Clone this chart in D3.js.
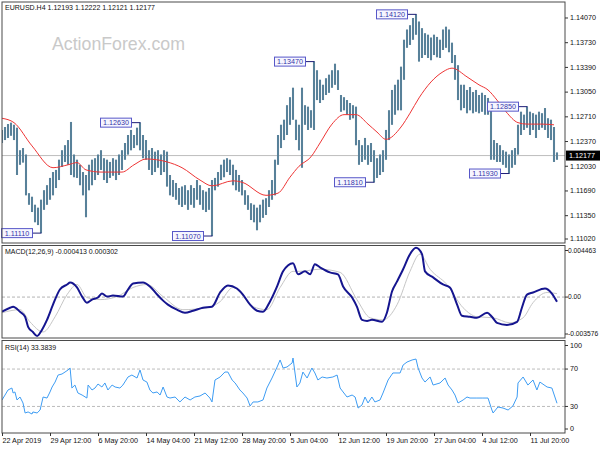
<!DOCTYPE html>
<html><head><meta charset="utf-8">
<script src="https://cdn.jsdelivr.net/npm/d3@7/dist/d3.min.js"></script>
<style>
html,body{margin:0;padding:0;background:#fff}
svg{display:block}
text{font-family:"Liberation Sans",Arial,sans-serif}
</style></head><body>
<svg id="chart" width="600" height="450"></svg>
<script>
// ---------- DATA ----------
const symbolTitle = "EURUSD.H4  1.12193 1.12222 1.12121 1.12177";
const macdTitle = "MACD(12,26,9) -0.000413 0.000302";
const rsiTitle = "RSI(14) 33.3839";
const watermark = "ActionForex.com";
const lastPrice = 1.12177;

const highs = [1.1253,1.1257,1.1261,1.1263,1.1260,1.1256,1.1225,1.1228,1.1219,1.1166,
1.1161,1.1150,1.1146,1.1157,1.1170,1.1177,1.1187,1.1195,1.1198,1.1212,
1.1225,1.1232,1.1239,1.1264,1.1219,1.1212,1.1205,1.1195,1.1191,1.1205,
1.1212,1.1214,1.1219,1.1225,1.1214,1.1212,1.1209,1.1214,1.1212,1.1219,
1.1225,1.1235,1.1246,1.1253,1.1246,1.1256,1.1263,1.1246,1.1239,1.1225,
1.1228,1.1223,1.1225,1.1219,1.1225,1.1223,1.1191,1.1184,1.1180,1.1173,
1.1175,1.1177,1.1170,1.1177,1.1173,1.1184,1.1177,1.1170,1.1168,1.1173,
1.1184,1.1187,1.1195,1.1205,1.1212,1.1214,1.1212,1.1205,1.1198,1.1191,
1.1184,1.1170,1.1163,1.1152,1.1150,1.1146,1.1150,1.1157,1.1159,1.1170,
1.1184,1.1212,1.1246,1.1260,1.1267,1.1287,1.1298,1.1311,1.1267,1.1260,
1.1311,1.1287,1.1285,1.1280,1.1347,1.1335,1.1322,1.1315,1.1324,1.1329,
1.1335,1.1344,1.1335,1.1301,1.1298,1.1294,1.1290,1.1287,1.1285,1.1239,
1.1232,1.1242,1.1232,1.1235,1.1225,1.1214,1.1219,1.1225,1.1253,1.1280,
1.1308,1.1315,1.1322,1.1340,1.1377,1.1391,1.1397,1.1407,1.1412,1.1402,
1.1393,1.1386,1.1384,1.1380,1.1384,1.1381,1.1377,1.1391,1.1395,1.1391,
1.1373,1.1356,1.1342,1.1315,1.1315,1.1308,1.1312,1.1305,1.1308,1.1301,
1.1304,1.1301,1.1297,1.1287,1.1239,1.1235,1.1232,1.1225,1.1223,1.1219,
1.1225,1.1228,1.1260,1.1278,1.1274,1.1285,1.1278,1.1276,1.1274,1.1278,
1.1276,1.1283,1.1269,1.1267,1.1257,1.1222];

const lows = [1.1235,1.1239,1.1242,1.1245,1.1239,1.1191,1.1205,1.1208,1.1163,1.1150,
1.1140,1.1126,1.1122,1.1111,1.1143,1.1150,1.1157,1.1163,1.1173,1.1184,
1.1202,1.1209,1.1205,1.1191,1.1188,1.1187,1.1177,1.1163,1.1133,1.1170,
1.1177,1.1184,1.1191,1.1198,1.1184,1.1180,1.1187,1.1190,1.1184,1.1191,
1.1198,1.1212,1.1219,1.1225,1.1228,1.1232,1.1225,1.1214,1.1212,1.1198,
1.1191,1.1195,1.1201,1.1191,1.1195,1.1175,1.1163,1.1161,1.1157,1.1150,
1.1147,1.1150,1.1143,1.1150,1.1146,1.1157,1.1150,1.1143,1.1140,1.1143,
1.1107,1.1170,1.1175,1.1184,1.1188,1.1195,1.1191,1.1177,1.1170,1.1168,
1.1163,1.1150,1.1143,1.1129,1.1126,1.1115,1.1126,1.1132,1.1136,1.1147,
1.1157,1.1163,1.1205,1.1228,1.1239,1.1246,1.1260,1.1267,1.1239,1.1225,
1.1201,1.1260,1.1253,1.1256,1.1253,1.1294,1.1290,1.1294,1.1301,1.1304,
1.1311,1.1315,1.1308,1.1278,1.1280,1.1274,1.1267,1.1269,1.1232,1.1205,
1.1209,1.1212,1.1205,1.1209,1.1181,1.1187,1.1191,1.1195,1.1212,1.1239,
1.1260,1.1274,1.1280,1.1280,1.1322,1.1366,1.1370,1.1377,1.1384,1.1347,
1.1352,1.1356,1.1352,1.1349,1.1356,1.1353,1.1352,1.1363,1.1366,1.1360,
1.1345,1.1322,1.1294,1.1280,1.1283,1.1276,1.1280,1.1276,1.1278,1.1276,
1.1278,1.1274,1.1274,1.1212,1.1212,1.1209,1.1209,1.1205,1.1201,1.1193,
1.1201,1.1205,1.1219,1.1246,1.1253,1.1256,1.1246,1.1253,1.1242,1.1253,
1.1256,1.1253,1.1242,1.1239,1.1209,1.1212];

// moving average (red), sampled at bar positions
const maX = [0,4,10,17,22,25,28,33,40,44,48,55,60,66,70,77,80,88,92,96,99,103,106,110,114,118,122,125,128,133,136,139,143,147,150,155,159,162,165,168,172,175,180,184];
const maV = [1.1269,1.1263,1.1231,1.1201,1.1205,1.1208,1.1198,1.1195,1.1195,1.1205,1.1213,1.1209,1.1201,1.1184,1.1176,1.1183,1.1181,1.1163,1.1166,1.1188,1.1203,1.1216,1.1235,1.1261,1.1274,1.1274,1.1261,1.1250,1.1240,1.1257,1.1276,1.1297,1.1319,1.1333,1.1338,1.1326,1.1315,1.1308,1.1294,1.1278,1.1263,1.1261,1.1261,1.1260];

// MACD main line
const macdX = [0,2.7,3.7,6,7.7,8.7,10.3,11.7,13.3,15,17,19.3,21.7,22.7,25,26.7,28.3,30,32,33.3,35,37,40.3,42,43.7,47,49.3,51.7,53.7,55.3,58.3,61,63.7,67,70,72.7,75.3,78.3,80.3,82.7,85,87,89.3,91.7,93.7,97,98.7,101,102.7,104.3,106,109.3,112,113.7,116.7,118.3,120,121.7,123.3,126.7,128.3,130,131.7,133.7,136,138,140,141,143.7,147,149.3,151.7,153.3,156,158.3,161.7,163.3,165,168.3,171.7,173.3,175,177,181,183.3,185];
const macdV = [-0.00128,-0.00093,-0.00084,-0.00128,-0.00172,-0.00260,-0.00305,-0.00340,-0.00287,-0.00199,-0.00066,0.00066,0.00110,0.00128,0.00084,0.00004,-0.00049,-0.00022,-0.00004,0.00031,0.00004,0.00013,0.00004,0.00066,0.00119,0.00128,0.00093,0.00022,-0.00031,-0.00066,-0.00110,-0.00137,-0.00119,-0.00093,-0.00084,0.00040,0.00102,0.00075,0.00022,-0.00066,-0.00119,-0.00128,-0.00040,0.00093,0.00225,0.00296,0.00199,0.00225,0.00199,0.00287,0.00260,0.00216,0.00199,0.00093,-0.00004,-0.00084,-0.00199,-0.00208,-0.00199,-0.00216,-0.00137,0.00049,0.00137,0.00243,0.00375,0.00430,0.00375,0.00225,0.00172,0.00110,0.00084,-0.00066,-0.00163,-0.00172,-0.00181,-0.00137,-0.00172,-0.00225,-0.00243,-0.00216,-0.00093,0.00022,0.00040,0.00075,0.00031,-0.00041];
// MACD signal line
const sigX = [0,6,9.3,13.7,17.7,21.7,25,28.3,32.7,38.3,43.7,48.3,53.7,60.3,68.3,72.7,77,83.7,88.3,92.7,97,99.3,106,112.7,118.3,122.7,127,131.7,136,139.3,142.7,148.3,153.7,158.3,163.7,169.3,173.7,177,181.7,185];
const sigV = [-0.00137,-0.00110,-0.00216,-0.00305,-0.00172,0.00022,0.00110,-0.00004,-0.00022,0.00004,0.00084,0.00110,0.00004,-0.00110,-0.00093,-0.00040,0.00084,-0.00084,-0.00110,0.00084,0.00225,0.00225,0.00243,0.00216,-0.00022,-0.00181,-0.00199,-0.00066,0.00225,0.00375,0.00243,0.00110,-0.00093,-0.00172,-0.00181,-0.00225,-0.00181,-0.00049,0.00040,0.00030];

// RSI(14)
const rsiX = [0,1,2,3.3,3.7,4.3,5,6,7,7.7,8.7,10,10.3,11.7,12.7,13.7,15,16,16.7,17.7,18.7,20,21,22,22.7,23.3,24.3,25.3,26.7,28.3,28.7,30,31,32,33.3,34.3,35.3,36.7,37.7,39.3,40.3,42,43.3,45,46,47,48.3,49.3,50.3,51.7,52.7,53.7,55,56,57.7,59.3,61,62.7,64.3,66,67.7,69.3,70,71,72.7,74.3,75.3,76.7,77.7,79.3,80.3,81.7,82.7,83.7,85.3,87,88.3,90,91.7,92.7,93.7,95,96.7,97,98.3,99.3,100.3,101.7,103.3,104.3,105.3,106.7,108.3,110.3,111.7,112.7,113.7,115,116.7,117.7,118.7,120,121,122,123.3,124.3,126,127,128.7,130.3,132.7,133.7,135,136.7,138,138.7,140,141,142.7,143.7,146,147.7,148.7,150,151,152,153.7,155,156,158.3,160.3,162,163.3,163.7,165.3,167,168.7,170.3,171.7,172,173.7,175.3,177,178.3,179.3,181.7,183.3,185];
const rsiV = [36.9,42.2,47.6,49.7,44.4,45.5,36.9,40.1,33.7,23.0,24.1,21.9,24.1,23.0,26.2,40.1,39.0,45.5,50.8,56.1,63.6,64.7,66.8,69.0,71.1,49.7,52.9,44.4,42.2,39.0,52.9,47.6,49.7,54.0,50.8,55.1,47.6,52.9,50.8,49.7,52.9,61.5,63.6,60.4,69.0,58.3,56.1,47.6,44.4,45.5,42.2,50.8,40.1,39.0,40.1,34.8,40.1,36.9,40.1,41.2,44.4,39.0,34.8,58.3,61.5,66.8,66.8,58.3,55.1,47.6,44.4,39.0,30.5,34.8,34.8,36.9,49.7,60.4,72.2,79.7,71.1,72.2,76.5,81.8,50.8,55.0,66.8,60.4,71.1,65.8,58.3,61.5,60.4,61.5,63.6,49.7,45.5,40.1,42.2,40.1,28.3,31.6,40.1,33.7,40.1,34.8,36.9,44.4,58.3,65.8,65.8,74.3,77.5,79.7,80.7,71.1,60.4,56.1,61.5,52.9,55.1,60.4,52.9,47.6,42.2,33.7,36.9,40.1,39.0,39.0,39.0,39.0,26.2,23.0,29.4,28.3,26.2,30.5,40.1,55.1,61.5,52.9,58.3,47.6,56.1,50.8,49.7,33.4];

// labelled swing points
const pivotText  = ["1.11110","1.12630","1.11070","1.13470","1.11810","1.14120","1.11930","1.12850"];
const pivotPrice = [1.1111,1.1263,1.1107,1.1347,1.1181,1.1412,1.1193,1.1285];
const pivotBar   = [13,46,70,104,124,138,169,175];

// axes
const priceTicks = [1.1407,1.1373,1.1339,1.1305,1.1271,1.1237,1.1203,1.1169,1.1135,1.1102];
const macdTicks = [0.004463,0,-0.003576];
const macdTickLabels = ["0.004463","0.00","-0.003576"];
const rsiTicks = [100,70,30,0];
const rsiLevels = [70,30];
const timeIdx = [0,16,32,48,64,80,96,112,128,144,160,176];
const timeLabels = ["22 Apr 2019","29 Apr 12:00","6 May 20:00","14 May 04:00","21 May 12:00","28 May 20:00","5 Jun 04:00","12 Jun 12:00","19 Jun 20:00","27 Jun 04:00","4 Jul 12:00","11 Jul 20:00"];

// ---------- DRAW ----------
const svg = d3.select("#chart");
svg.append("rect").attr("width",600).attr("height",450).attr("fill","#fff");
const L = 2, R = 565;
const PM = [2,243], PD = [245.5,338], PR = [340.5,433];

const x  = d3.scaleLinear().domain([0,185]).range([2,557]);
const yP = d3.scaleLinear().domain([1.10974,1.14290]).range([243,2]);
const yM = d3.scaleLinear().domain([-0.003576,0.004463]).range([338,246]);
const yR = d3.scaleLinear().domain([0,100]).range([434.5,341]);

const defs = svg.append("defs");
[["cm",PM],["cd",PD],["cr",PR]].forEach(([id,p])=>{
  defs.append("clipPath").attr("id",id).append("rect")
    .attr("x",L).attr("y",p[0]).attr("width",R-L).attr("height",p[1]-p[0]);
});

// watermark
svg.append("text").attr("x",52).attr("y",50).text(watermark)
  .attr("font-size",19).attr("fill","#c9c9c9")
  .attr("textLength",133).attr("lengthAdjust","spacingAndGlyphs");

const gMain = svg.append("g").attr("clip-path","url(#cm)");
gMain.append("line").attr("x1",L).attr("x2",R)
  .attr("y1",yP(lastPrice)).attr("y2",yP(lastPrice))
  .attr("stroke","#bdbdbd").attr("stroke-width",1);

// bars
const idx = d3.range(highs.length);
gMain.append("g").selectAll("line").data(idx).join("line")
  .attr("x1",i=>x(i)).attr("x2",i=>x(i))
  .attr("y1",i=>yP(highs[i])).attr("y2",i=>yP(lows[i]))
  .attr("stroke","#8eacbd").attr("stroke-width",2.1);
gMain.append("g").selectAll("line").data(idx).join("line")
  .attr("x1",i=>x(i)).attr("x2",i=>x(i))
  .attr("y1",i=>yP(highs[i])).attr("y2",i=>yP(lows[i]))
  .attr("stroke","#2c5f7d").attr("stroke-width",1.1);

// moving average
gMain.append("path").datum(d3.range(maX.length))
  .attr("d",d3.line().x(k=>x(maX[k])).y(k=>yP(maV[k])).curve(d3.curveMonotoneX))
  .attr("fill","none").attr("stroke","#ee3535").attr("stroke-width",1);

// pivots
const gPiv = svg.append("g");
pivotText.forEach((t,k)=>{
  const bx = x(pivotBar[k]), py = yP(pivotPrice[k]);
  gPiv.append("line").attr("x1",bx-8).attr("x2",bx+0.5).attr("y1",py).attr("y2",py)
    .attr("stroke","#1e1e78").attr("stroke-width",1);
  gPiv.append("rect").attr("x",bx-39.5).attr("y",py-4.5).attr("width",31).attr("height",9)
    .attr("fill","#f6f6ff").attr("stroke","#5757c8").attr("stroke-width",1);
  gPiv.append("text").attr("x",bx-24).attr("y",py+2.6).attr("text-anchor","middle")
    .attr("font-family","'Liberation Mono','DejaVu Sans Mono',monospace")
    .attr("font-size",7.2).attr("fill","#3434a8").text(t);
});

// MACD panel
const gD = svg.append("g").attr("clip-path","url(#cd)");
gD.append("line").attr("x1",L).attr("x2",R).attr("y1",yM(0)).attr("y2",yM(0))
  .attr("stroke","#b4b4b4").attr("stroke-dasharray","3,2");
gD.append("path").datum(d3.range(sigX.length))
  .attr("d",d3.line().x(k=>x(sigX[k])).y(k=>yM(sigV[k])).curve(d3.curveMonotoneX))
  .attr("fill","none").attr("stroke","#c6c6c6").attr("stroke-width",1);
gD.append("path").datum(d3.range(macdX.length))
  .attr("d",d3.line().x(k=>x(macdX[k])).y(k=>yM(macdV[k])).curve(d3.curveMonotoneX))
  .attr("fill","none").attr("stroke","#15158f").attr("stroke-width",2);

// RSI panel
const gR = svg.append("g").attr("clip-path","url(#cr)");
rsiLevels.forEach(v=>{
  gR.append("line").attr("x1",L).attr("x2",R).attr("y1",yR(v)).attr("y2",yR(v))
    .attr("stroke","#bcbcbc").attr("stroke-dasharray","3,2");
});
gR.append("path").datum(d3.range(rsiX.length))
  .attr("d",d3.line().x(k=>x(rsiX[k])).y(k=>yR(rsiV[k])))
  .attr("fill","none").attr("stroke","#3d9cf3").attr("stroke-width",1);

// panel borders
[PM,PD,PR].forEach(p=>{
  svg.append("rect").attr("x",L).attr("y",p[0]).attr("width",R-L).attr("height",p[1]-p[0])
    .attr("fill","none").attr("stroke","#4a4a4a").attr("stroke-width",1);
});

// titles
svg.append("text").attr("x",5).attr("y",10).attr("font-size",8).attr("fill","#111")
  .attr("textLength",150).attr("lengthAdjust","spacingAndGlyphs").text(symbolTitle);
svg.append("text").attr("x",5).attr("y",254).attr("font-size",8).attr("fill","#111")
  .attr("textLength",113).attr("lengthAdjust","spacingAndGlyphs").text(macdTitle);
svg.append("text").attr("x",5).attr("y",350).attr("font-size",8).attr("fill","#111")
  .attr("textLength",51).attr("lengthAdjust","spacingAndGlyphs").text(rsiTitle);

// right axes
function styleAxis(g, fs){
  g.select(".domain").remove();
  g.selectAll(".tick line").attr("stroke","#333");
  g.selectAll(".tick text").attr("font-size",fs||7.2).attr("fill","#111")
    .attr("font-family","'Liberation Sans',Arial,sans-serif");
}
function clampTicks(g, sc, top, bot){
  g.selectAll(".tick").attr("transform",d=>`translate(0,${Math.max(top+5,Math.min(bot-4,sc(d)))})`);
}
const gAP = svg.append("g").attr("transform",`translate(${R},0)`)
  .call(d3.axisRight(yP).tickValues(priceTicks).tickSize(3).tickPadding(2).tickFormat(d3.format(".5f")));
styleAxis(gAP); clampTicks(gAP,yP,PM[0],PM[1]);

const gAD = svg.append("g").attr("transform",`translate(${R},0)`)
  .call(d3.axisRight(yM).tickValues(macdTicks).tickSize(3).tickPadding(0).tickFormat((d,i)=>macdTickLabels[i]));
styleAxis(gAD, 6.7); clampTicks(gAD,yM,PD[0],PD[1]);

const gAR = svg.append("g").attr("transform",`translate(${R},0)`)
  .call(d3.axisRight(yR).tickValues(rsiTicks).tickSize(3).tickPadding(2).tickFormat(d3.format("d")));
styleAxis(gAR); clampTicks(gAR,yR,PR[0],PR[1]);

// current price tag
const lp = yP(lastPrice);
svg.append("rect").attr("x",R+1).attr("y",lp-5).attr("width",34).attr("height",10).attr("fill","#000");
svg.append("text").attr("x",R+4).attr("y",lp+2.6).attr("font-size",7.2).attr("fill","#fff").text(d3.format(".5f")(lastPrice));

// time axis
const gAX = svg.append("g").attr("transform",`translate(0,${PR[1]})`)
  .call(d3.axisBottom(x).tickValues(timeIdx).tickSize(3).tickPadding(2).tickFormat((d,i)=>timeLabels[i]));
styleAxis(gAX);
gAX.selectAll(".tick text").attr("text-anchor","start").attr("dx",0);
</script></body></html>
